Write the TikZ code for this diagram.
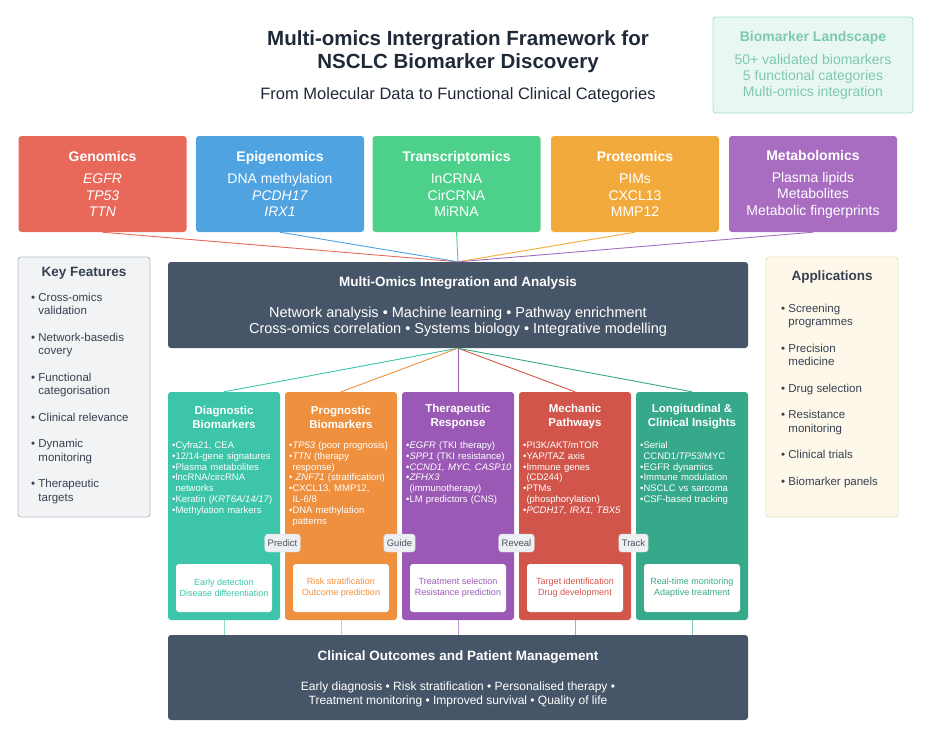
\documentclass[tikz,border=0pt]{standalone}
\usepackage{fontspec}
\setmainfont{Liberation Sans}
\usetikzlibrary{positioning}

\definecolor{genred}{HTML}{E8685A}
\definecolor{epiblue}{HTML}{4FA3E0}
\definecolor{tragreen}{HTML}{4DD08A}
\definecolor{proorange}{HTML}{F2AA3C}
\definecolor{metpurple}{HTML}{A86CC1}
\definecolor{slate}{HTML}{475569}
\definecolor{diagteal}{HTML}{3CC5A9}
\definecolor{progorange}{HTML}{EF903F}
\definecolor{therpurple}{HTML}{9B59B6}
\definecolor{mechred}{HTML}{D1554B}
\definecolor{longgreen}{HTML}{35A98A}
\definecolor{inktext}{HTML}{1F2937}
\definecolor{sidetext}{HTML}{374151}
\definecolor{keyfill}{HTML}{F1F3F5}
\definecolor{keyline}{HTML}{B8BEC5}
\definecolor{appfill}{HTML}{FDF8E9}
\definecolor{appline}{HTML}{E8E0C6}
\definecolor{landfill}{HTML}{E9F7F3}
\definecolor{landline}{HTML}{A9DCCB}
\definecolor{landtext}{HTML}{7FC8B0}
\definecolor{pillfill}{HTML}{EDEFF2}
\definecolor{pillline}{HTML}{D0D5DB}
\definecolor{pilltext}{HTML}{4B5563}

\newcommand\contline{\hphantom{\textbullet}}
\newcommand\contsp{\hphantom{\textbullet\ }}

\tikzset{
  omicsbox/.style={fill=#1, rounded corners=3pt, minimum width=168pt,
    minimum height=96pt, text=white, align=center,
    font=\fontsize{14}{16.5}\selectfont},
  slatebox/.style={fill=slate, rounded corners=3pt, minimum width=580pt},
  slatetitle/.style={text=white, font=\fontsize{13.5}{16}\selectfont\bfseries},
  slatebody/.style={text=white, align=center},
  catbox/.style={fill=#1, rounded corners=3pt, minimum width=112pt,
    minimum height=228pt},
  cattitle/.style={text=white, align=center,
    font=\fontsize{11.5}{14}\selectfont\bfseries},
  catlist/.style={text=white, text width=110pt, align=left, inner sep=0pt,
    anchor=north west, font=\fontsize{9.5}{10.8}\selectfont},
  outbox/.style={fill=white, rounded corners=3pt, minimum width=96pt,
    minimum height=48pt, text=#1, align=center,
    font=\fontsize{9}{11}\selectfont},
  pill/.style={fill=pillfill, draw=pillline, rounded corners=3pt,
    text=pilltext, font=\fontsize{9.5}{11}\selectfont, inner sep=3pt,
    minimum height=18pt},
  sidebox/.style={fill=#1, rounded corners=3pt, line width=0.9pt,
    minimum width=132pt, minimum height=260pt},
  sidetitle/.style={text=sidetext, font=\fontsize{13.5}{15}\selectfont\bfseries},
  sidelist/.style={text=sidetext, align=left, inner sep=0pt, anchor=north west,
    font=\fontsize{11.5}{13.5}\selectfont},
  link/.style={draw=#1, line width=0.9pt}
}

\begin{document}
\begin{tikzpicture}[x=1pt, y=-1pt]
    \useasboundingbox (0,0) rectangle (940,732);

    % Title
    \node[text=inktext, font=\fontsize{20.5}{24}\selectfont\bfseries]
        (title1) at (458,40) {Multi-omics Intergration Framework for};
    \node[text=inktext, font=\fontsize{20.5}{24}\selectfont\bfseries]
        (title2) at (458,63) {NSCLC Biomarker Discovery};
    \node[text=inktext, font=\fontsize{16.5}{19}\selectfont]
        (subtitle) at (458,95) {From Molecular Data to Functional Clinical Categories};

    % Biomarker landscape
    \node[fill=landfill, draw=landline, line width=0.9pt, rounded corners=3pt,
        minimum width=200pt, minimum height=96pt, text=landtext, align=center,
        font=\fontsize{14}{16}\selectfont] (landscape) at (813,65)
        {\textbf{Biomarker Landscape}\\[7pt]50+ validated biomarkers\\
         5 functional categories\\Multi-omics integration};

    % Omics layers
    \node[omicsbox=genred] (gen) at (102.5,184)
        {\textbf{Genomics}\\[5.5pt]\textit{EGFR}\\\textit{TP53}\\\textit{TTN}};
    \node[omicsbox=epiblue] (epi) at (280,184)
        {\textbf{Epigenomics}\\[5.5pt]DNA methylation\\\textit{PCDH17}\\\textit{IRX1}};
    \node[omicsbox=tragreen] (tra) at (456.5,184)
        {\textbf{Transcriptomics}\\[5.5pt]InCRNA\\CirCRNA\\MiRNA};
    \node[omicsbox=proorange] (pro) at (635,184)
        {\textbf{Proteomics}\\[5.5pt]PIMs\\CXCL13\\MMP12};
    \node[omicsbox=metpurple] (met) at (813,184)
        {\textbf{Metabolomics}\\[5.5pt]Plasma lipids\\Metabolites\\Metabolic fingerprints};

    % Integration
    \node[slatebox, minimum height=86pt] (integ) at (458,305) {};
    \node[slatetitle] (integ-title) at (458,283) {Multi-Omics Integration and Analysis};
    \node[slatebody, font=\fontsize{14.5}{16}\selectfont] (integ-body) at (458,322)
        {Network analysis \textbullet{} Machine learning \textbullet{} Pathway enrichment\\
         Cross-omics correlation \textbullet{} Systems biology \textbullet{} Integrative modelling};

    \foreach \o/\c in {gen/genred, epi/epiblue, tra/tragreen, pro/proorange, met/metpurple}
        \draw[link=\c] (\o.south) -- (integ.north);

    % Side panels
    \node[sidebox=keyfill, draw=keyline] (keyfeat) at (84,387) {};
    \node[sidetitle] (keyfeat-title) at (84,273) {Key Features};
    \node[sidelist] (keyfeat-list) at (31,292.5)
        {\textbullet\ Cross-omics\\\contsp validation\\[13pt]
         \textbullet\ Network-basedis\\\contsp covery\\[13pt]
         \textbullet\ Functional\\\contsp categorisation\\[13pt]
         \textbullet\ Clinical relevance\\[13pt]
         \textbullet\ Dynamic\\\contsp monitoring\\[13pt]
         \textbullet\ Therapeutic\\\contsp targets};

    \node[sidebox=appfill, draw=appline] (apps) at (832,387) {};
    \node[sidetitle] (apps-title) at (832,277) {Applications};
    \node[sidelist] (apps-list) at (781,303.5)
        {\textbullet\ Screening\\\contsp programmes\\[13pt]
         \textbullet\ Precision\\\contsp medicine\\[13pt]
         \textbullet\ Drug selection\\[13pt]
         \textbullet\ Resistance\\\contsp monitoring\\[13pt]
         \textbullet\ Clinical trials\\[13pt]
         \textbullet\ Biomarker panels};

    % Functional categories
    \node[catbox=diagteal] (diag) at (224,506) {};
    \node[cattitle] (diag-title) at (224,417) {Diagnostic\\Biomarkers};
    \node[catlist] (diag-list) at (172,441.5)
        {\textbullet Cyfra21, CEA\\
         \textbullet 12/14-gene signatures\\
         \textbullet Plasma metabolites\\
         \textbullet lncRNA/circRNA\\\contline networks\\
         \textbullet Keratin (\textit{KRT6A/14/17})\\
         \textbullet Methylation markers};
    \node[outbox=diagteal] (diag-out) at (224,588)
        {Early detection\\Disease differentiation};

    \node[catbox=progorange] (prog) at (341,506) {};
    \node[cattitle] (prog-title) at (341,417) {Prognostic\\Biomarkers};
    \node[catlist] (prog-list) at (289,441.5)
        {\textbullet\textit{TP53} (poor prognosis)\\
         \textbullet\textit{TTN} (therapy\\\contline response)\\
         \textbullet\ \textit{ZNF71} (stratification)\\
         \textbullet CXCL13, MMP12,\\\contline IL-6/8\\
         \textbullet DNA methylation\\\contline patterns};
    \node[outbox=progorange] (prog-out) at (341,588)
        {Risk stratification\\Outcome prediction};

    \node[catbox=therpurple] (ther) at (458,506) {};
    \node[cattitle] (ther-title) at (458,417) {Therapeutic\\Response};
    \node[catlist] (ther-list) at (406,441.5)
        {\textbullet\textit{EGFR} (TKI therapy)\\
         \textbullet\textit{SPP1} (TKI resistance)\\
         \textbullet\textit{CCND1, MYC, CASP10}\\
         \textbullet\textit{ZFHX3}\\\contline(immunotherapy)\\
         \textbullet LM predictors (CNS)};
    \node[outbox=therpurple] (ther-out) at (458,588)
        {Treatment selection\\Resistance prediction};

    \node[catbox=mechred] (mech) at (575,506) {};
    \node[cattitle] (mech-title) at (575,417) {Mechanic\\Pathways};
    \node[catlist] (mech-list) at (523,441.5)
        {\textbullet PI3K/AKT/mTOR\\
         \textbullet YAP/TAZ axis\\
         \textbullet Immune genes\\\contline(CD244)\\
         \textbullet PTMs\\\contline(phosphorylation)\\
         \textbullet\textit{PCDH17, IRX1, TBX5}};
    \node[outbox=mechred] (mech-out) at (575,588)
        {Target identification\\Drug development};

    \node[catbox=longgreen] (long) at (692,506) {};
    \node[cattitle] (long-title) at (692,417) {Longitudinal \&\\Clinical Insights};
    \node[catlist] (long-list) at (640,441.5)
        {\textbullet Serial\\\contline CCND1/\textit{TP53}/MYC\\
         \textbullet EGFR dynamics\\
         \textbullet Immune modulation\\
         \textbullet NSCLC vs sarcoma\\
         \textbullet CSF-based tracking};
    \node[outbox=longgreen] (long-out) at (692,588)
        {Real-time monitoring\\Adaptive treatment};

    \foreach \k/\c in {diag/diagteal, prog/progorange, ther/therpurple, mech/mechred, long/longgreen}
        \draw[link=\c] (integ.south) -- (\k.north);

    % Flow labels
    \node[pill] (predict) at (282.5,543) {Predict};
    \node[pill] (guide) at (399.5,543) {Guide};
    \node[pill] (reveal) at (516.5,543) {Reveal};
    \node[pill] (track) at (633.5,543) {Track};

    % Clinical outcomes
    \node[slatebox, minimum height=85pt] (outcomes) at (458,677.5) {};
    \node[slatetitle] (outcomes-title) at (458,657) {Clinical Outcomes and Patient Management};
    \node[slatebody, font=\fontsize{12}{13.5}\selectfont] (outcomes-body) at (458,694.5)
        {Early diagnosis \textbullet{} Risk stratification \textbullet{} Personalised therapy \textbullet\\
         Treatment monitoring \textbullet{} Improved survival \textbullet{} Quality of life};

    \foreach \k/\c in {diag/diagteal, prog/progorange, ther/therpurple, mech/mechred, long/longgreen}
        \draw[link=\c!60] (\k.south) -- (\k.south |- outcomes.north);
\end{tikzpicture}
\end{document}
